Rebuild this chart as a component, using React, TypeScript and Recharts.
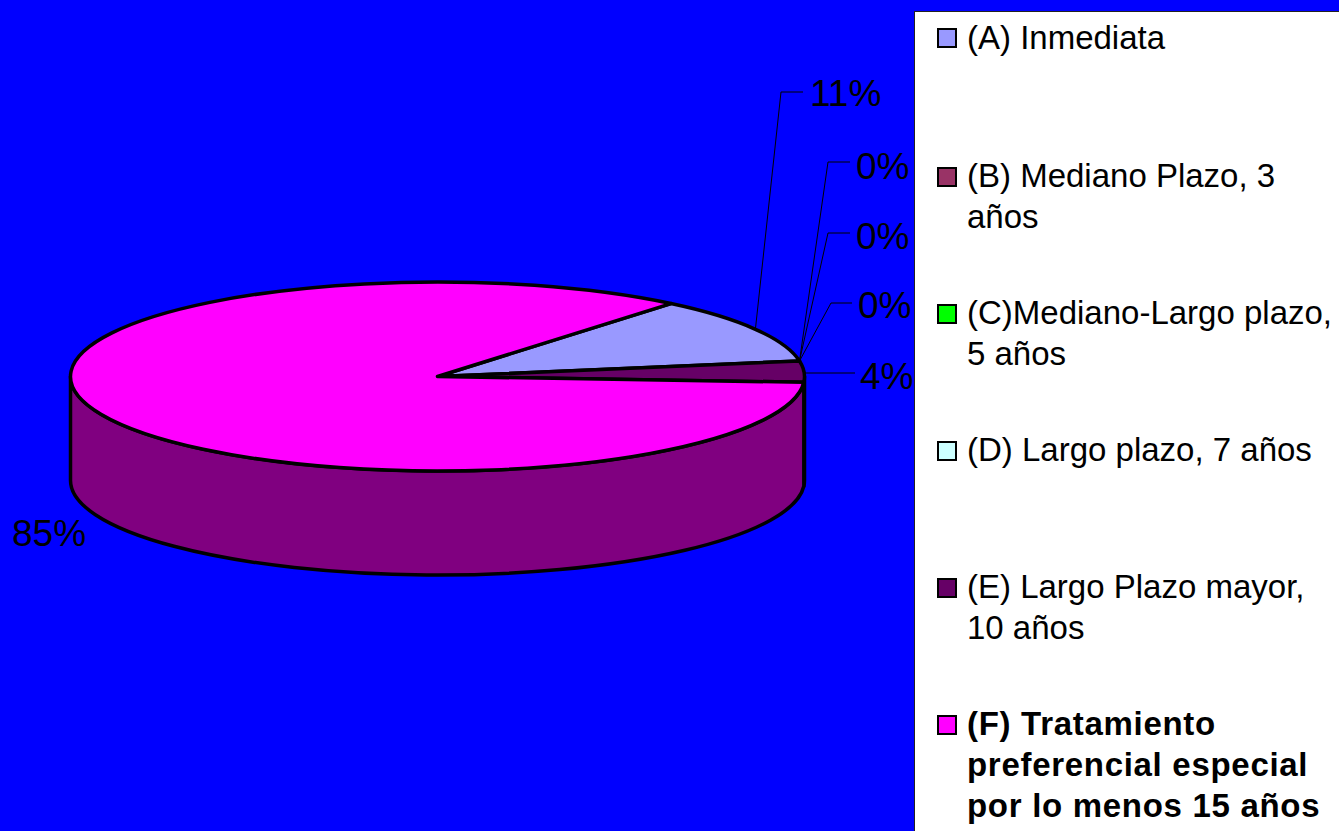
import { Legend, Pie, PieChart } from "recharts"

const categories = [
  "(A) Inmediata",
  "(B) Mediano Plazo, 3 años",
  "(C)Mediano-Largo plazo, 5 años",
  "(D) Largo plazo, 7 años",
  "(E) Largo Plazo mayor, 10 años",
  "(F) Tratamiento preferencial especial por lo menos 15 años",
]
const shares = [11.4, 0, 0, 0, 3.6, 85]
const topColors = ["#9999FF", "#993366", "#00FF00", "#CCFFFF", "#660066", "#FF00FF"]
const wallColors = ["#4D4D80", "#4D1A33", "#008000", "#668080", "#330033", "#800080"]

const data = categories.map((name, i) => ({
  name,
  value: shares[i],
  fill: topColors[i],
  wall: wallColors[i],
}))

// the pie is squashed to an ellipse, recharts only hands us the angles
const CX = 437.5
const CY = 376.5
const RX = 367
const RY = 94.5
const DEPTH = 104

const px = (deg: number) => CX + RX * Math.cos((deg * Math.PI) / 180)
const py = (deg: number) => CY - RY * Math.sin((deg * Math.PI) / 180)

function Slice3D(props: any) {
  const { startAngle, endAngle, fill, wall } = props
  if (startAngle === endAngle) return <g />
  const large = startAngle - endAngle > 180 ? 1 : 0
  const top = `M${CX},${CY} L${px(startAngle)},${py(startAngle)} A${RX},${RY} 0 ${large} 1 ${px(endAngle)},${py(endAngle)} Z`

  // only the front half of the rim shows
  const hi = Math.min(startAngle, 0)
  const lo = Math.max(endAngle, -180)
  const side =
    hi > lo
      ? `M${px(hi)},${py(hi)} A${RX},${RY} 0 0 1 ${px(lo)},${py(lo)} L${px(lo)},${py(lo) + DEPTH} A${RX},${RY} 0 0 0 ${px(hi)},${py(hi) + DEPTH} Z`
      : null

  return (
    <g>
      {side && <path d={side} fill={wall} stroke="#000" strokeWidth={3.5} strokeLinejoin="round" />}
      <path d={top} fill={fill} stroke="#000" strokeWidth={3.5} strokeLinejoin="round" />
    </g>
  )
}

// where each percentage sits, elbow is the bend of the leader line
const labelSpots = [
  { x: 810, y: 106, elbow: [781, 92], end: 803 },
  { x: 856, y: 179, elbow: [828, 162], end: 850 },
  { x: 856, y: 249, elbow: [828, 233], end: 850 },
  { x: 858, y: 318, elbow: [831, 303], end: 852 },
  { x: 860, y: 389, elbow: [805, 373], end: 855 },
  { x: 12, y: 546, elbow: null, end: 0 },
]

function PercentLabel(props: any) {
  const { index, midAngle, percent } = props
  const spot = labelSpots[index]
  const ax = px(midAngle)
  const ay = py(midAngle)
  return (
    <g>
      {spot.elbow && (
        <polyline
          points={`${ax},${ay} ${spot.elbow[0]},${spot.elbow[1]} ${spot.end},${spot.elbow[1]}`}
          fill="none"
          stroke="#000"
          strokeWidth={1}
        />
      )}
      <text x={spot.x} y={spot.y} fontFamily="Liberation Sans" fontSize={37} fill="#000">
        {Math.round(percent * 100)}%
      </text>
    </g>
  )
}

function LegendPanel({ payload }: any) {
  return (
    <div style={{ position: "relative", width: "100%", height: "100%" }}>
      {(payload || []).map((entry: any, i: number) => (
        <div
          key={entry.value}
          style={{ position: "absolute", left: 22, top: 16 + 137 * i + (i > 0 ? 1.5 : 0), width: 402 }}
        >
          <span
            style={{
              position: "absolute",
              left: 0,
              top: 0,
              width: 20,
              height: 20,
              boxSizing: "border-box",
              background: entry.color,
              border: "2.5px solid #000",
            }}
          />
          <div
            style={{
              position: "absolute",
              left: 30,
              top: -11.5,
              width: 372,
              fontFamily: "Liberation Sans",
              fontSize: 33,
              lineHeight: "41px",
              color: "#000",
              fontWeight: i === 5 ? 700 : 400,
              letterSpacing: i === 5 ? 0.7 : 0,
            }}
          >
            {entry.value}
          </div>
        </div>
      ))}
    </div>
  )
}

export default function App() {
  return (
    <div style={{ position: "absolute", left: 0, top: 0, width: 1339, height: 831, background: "#0000FF", overflow: "hidden" }}>
      <PieChart width={1339} height={831} margin={{ top: 0, right: 0, bottom: 0, left: 0 }}>
        <Pie
          data={data}
          dataKey="value"
          nameKey="name"
          cx={CX}
          cy={CY}
          outerRadius={RX}
          startAngle={50.5}
          endAngle={-309.5}
          shape={Slice3D}
          label={PercentLabel}
          labelLine={false}
          isAnimationActive={false}
        />
        <Legend
          content={LegendPanel}
          wrapperStyle={{
            position: "absolute",
            left: 914,
            top: 11,
            right: "auto",
            bottom: "auto",
            width: 425,
            height: 820,
            boxSizing: "border-box",
            background: "#fff",
            borderLeft: "1px solid #222",
            borderTop: "1px solid #222",
          }}
        />
      </PieChart>
    </div>
  )
}
